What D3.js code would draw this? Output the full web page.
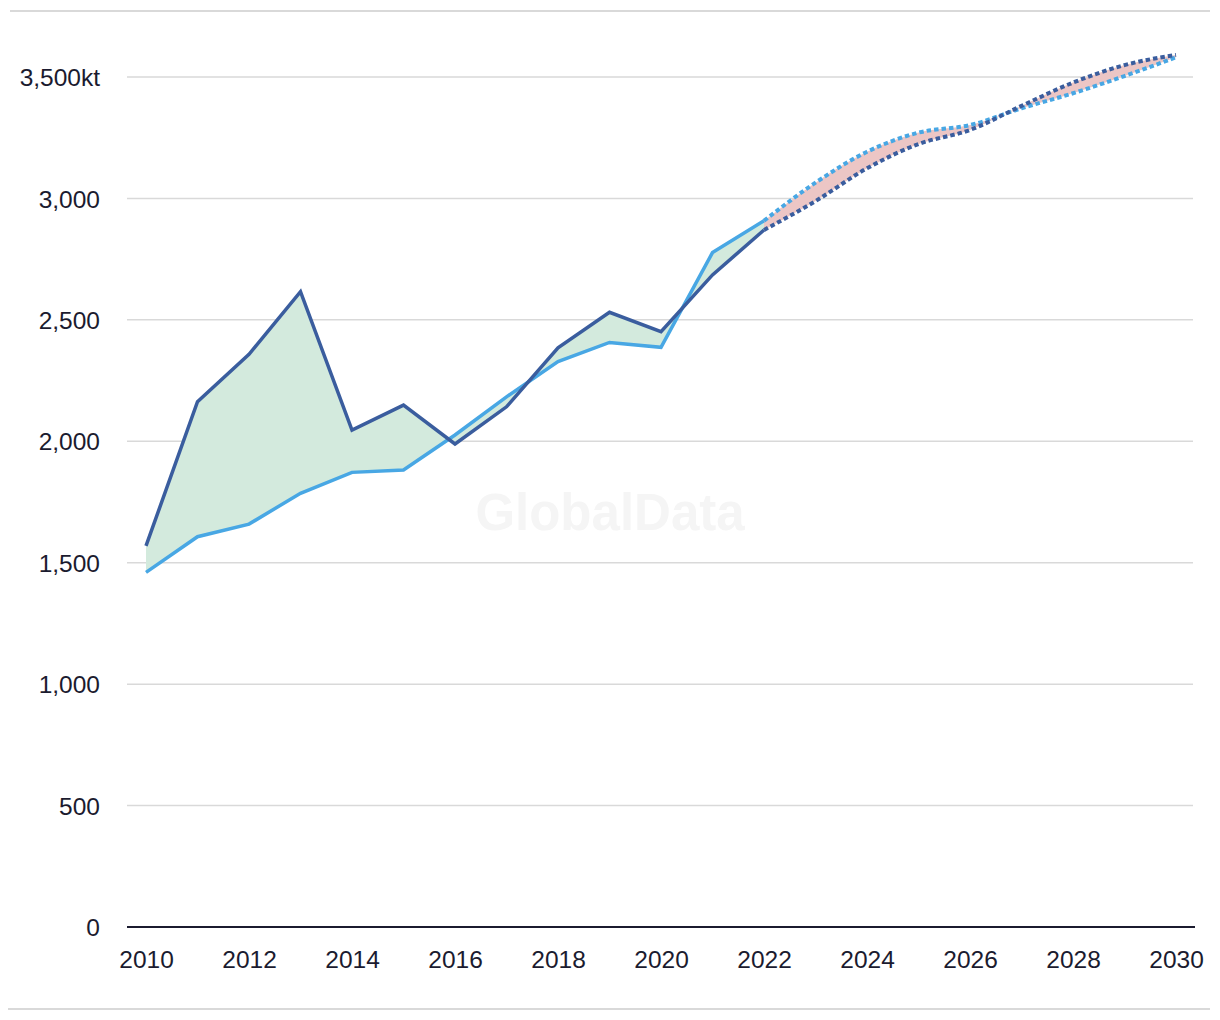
<!DOCTYPE html>
<html><head><meta charset="utf-8">
<script src="https://cdn.jsdelivr.net/npm/d3@7"></script>
<style>body{margin:0;background:#fff}svg{display:block}</style>
</head><body><svg id="c" width="1220" height="1020"></svg>
<script>
const years = [2010,2011,2012,2013,2014,2015,2016,2017,2018,2019,2020,2021,2022];
const seriesDark = [1569,2163,2358,2616,2046,2149,1989,2142,2385,2531,2451,2685,2870];
const seriesLight = [1460,1607,1659,1786,1872,1882,2026,2183,2328,2407,2387,2777,2908];
const forecastYears = [2022,2023,2024,2025,2026,2027,2028,2029,2030];
const forecastDark = [2870,2989,3124,3224,3282,3381,3477,3549,3591];
const forecastLight = [2908,3065,3192,3271,3302,3371,3433,3504,3581];
const yTicks = [0,500,1000,1500,2000,2500,3000,3500];
const xTicks = [2010,2012,2014,2016,2018,2020,2022,2024,2026,2028,2030];

const svg = d3.select("#c");
const font = "'Liberation Sans', Arial, sans-serif";
const textCol = "#1b1b2f";
const x = d3.scaleLinear().domain([2010,2030]).range([146,1176]);
const y = d3.scaleLinear().domain([0,3500]).range([927,77]);

// frame lines
svg.append("line").attr("x1",10).attr("x2",1210).attr("y1",11).attr("y2",11).attr("stroke","#d9d9d9").attr("stroke-width",2);
svg.append("line").attr("x1",8).attr("x2",1210).attr("y1",1009).attr("y2",1009).attr("stroke","#d9d9d9").attr("stroke-width",2);

// grid
const yAxis = d3.axisLeft(y).tickValues(yTicks).tickSize(0).tickPadding(0)
  .tickFormat(d => d===3500 ? d3.format(",")(d)+"kt" : d3.format(",")(d));
const yg = svg.append("g").attr("transform","translate(100,0)").call(yAxis);
yg.select(".domain").remove();
yg.selectAll("text").attr("font-family",font).attr("font-size",24.5).attr("fill",textCol).attr("dy","0.35em");

svg.append("g").selectAll("line").data(yTicks.filter(d=>d>0)).join("line")
  .attr("x1",127).attr("x2",1193).attr("y1",d=>y(d)).attr("y2",d=>y(d))
  .attr("stroke","#d9d9d9").attr("stroke-width",1.5);

// watermark
svg.append("text").attr("x",610).attr("y",530).attr("text-anchor","middle")
  .attr("font-family",font).attr("font-weight","bold").attr("font-size",51)
  .attr("fill","#f5f5f5").text("GlobalData");

// history area
const hist = years.map((yr,i)=>({yr,a:seriesDark[i],b:seriesLight[i]}));
svg.append("path").datum(hist)
  .attr("d", d3.area().x(d=>x(d.yr)).y0(d=>y(d.b)).y1(d=>y(d.a)))
  .attr("fill","#d3eadd");
const fc = forecastYears.map((yr,i)=>({yr,a:forecastDark[i],b:forecastLight[i]}));
const curve = d3.curveMonotoneX;
svg.append("path").datum(fc)
  .attr("d", d3.area().curve(curve).x(d=>x(d.yr)).y0(d=>y(d.b)).y1(d=>y(d.a)))
  .attr("fill","#ecc6c5");

// lines
const line = (key, c) => d3.line().curve(c||d3.curveLinear).x(d=>x(d.yr)).y(d=>y(d[key]));
svg.append("path").datum(hist).attr("d",line("b")).attr("fill","none").attr("stroke","#48a7e4").attr("stroke-width",3.5);
svg.append("path").datum(hist).attr("d",line("a")).attr("fill","none").attr("stroke","#3a5d9e").attr("stroke-width",3.5);
svg.append("path").datum(fc).attr("d",line("b",curve)).attr("fill","none").attr("stroke","#48a7e4").attr("stroke-width",4).attr("stroke-dasharray","4.5,3");
svg.append("path").datum(fc).attr("d",line("a",curve)).attr("fill","none").attr("stroke","#3a5d9e").attr("stroke-width",4).attr("stroke-dasharray","4.5,3");

// x axis
const xAxis = d3.axisBottom(x).tickValues(xTicks).tickSize(0).tickPadding(24).tickFormat(d3.format("d"));
const xg = svg.append("g").attr("transform","translate(0,927)").call(xAxis);
xg.select(".domain").remove();
xg.selectAll("text").attr("font-family",font).attr("font-size",24.5).attr("fill",textCol);
svg.append("line").attr("x1",127).attr("x2",1195).attr("y1",927).attr("y2",927).attr("stroke","#1b1b2f").attr("stroke-width",2);
</script></body></html>
